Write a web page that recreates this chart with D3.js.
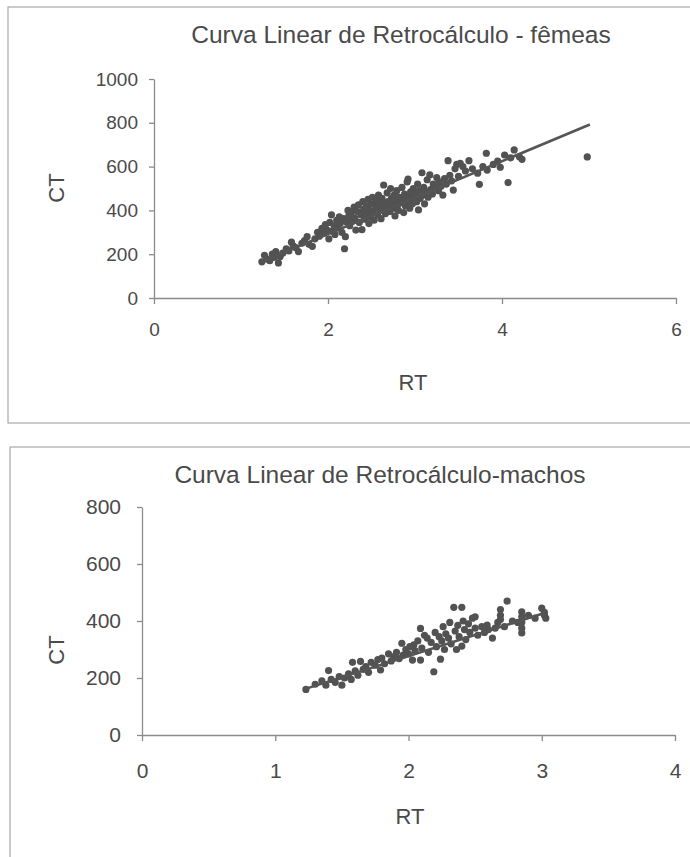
<!DOCTYPE html>
<html><head><meta charset="utf-8">
<script src="https://cdn.jsdelivr.net/npm/d3@7"></script>
<style>html,body{margin:0;padding:0;background:#fff;}svg{display:block;}</style>
</head><body>
<script>
// ---- Data ----
const femTitle = "Curva Linear de Retrocálculo - fêmeas";
const maleTitle = "Curva Linear de Retrocálculo-machos";
const femXTicks = [0, 2, 4, 6];
const femYTicks = [0, 200, 400, 600, 800, 1000];
const maleXTicks = [0, 1, 2, 3, 4];
const maleYTicks = [0, 200, 400, 600, 800];

const femRT = [1.24,1.27,1.30,1.33,1.36,1.38,1.40,1.43,1.45,1.48,1.52,1.55,1.58,1.60,1.63,1.66,1.70,1.73,1.76,1.78,1.82,1.85,1.88,1.90,1.93,1.95,1.97,1.99,
2.01,2.02,2.04,2.05,2.07,2.08,2.10,2.11,2.13,2.14,2.16,2.18,2.19,2.20,2.21,2.23,2.24,2.25,2.27,2.28,2.30,2.31,2.32,2.34,2.35,2.36,2.38,2.39,2.40,2.41,2.42,2.44,2.45,2.46,2.47,2.48,2.49,2.50,
2.51,2.52,2.53,2.55,2.56,2.57,2.58,2.59,2.60,2.61,2.62,2.63,2.64,2.65,2.66,2.68,2.69,2.70,2.71,2.72,2.73,2.74,2.75,2.76,2.77,2.78,2.79,2.80,2.81,2.82,2.84,2.85,2.86,2.87,2.88,2.89,2.90,2.91,2.92,2.93,2.94,2.95,2.96,2.97,2.98,2.99,
3.01,3.02,3.03,3.04,3.05,3.06,3.08,3.09,3.10,3.11,3.12,3.14,3.15,3.17,3.18,3.20,3.21,3.23,3.25,3.27,3.28,3.30,3.32,3.34,3.36,3.38,3.40,3.42,3.44,3.46,3.48,3.50,3.52,3.55,3.58,
3.62,3.66,3.72,3.74,3.78,3.82,3.83,3.90,3.95,3.98,4.03,4.07,4.10,4.14,4.20,4.23,4.98];
const femCT = [165,195,178,170,200,185,212,160,190,205,225,215,255,238,230,212,250,262,280,245,236,270,300,282,318,295,335,310,
270,345,380,305,330,290,355,320,370,340,300,362,225,280,348,400,375,330,390,350,415,365,310,395,425,345,380,312,440,405,360,420,385,450,340,400,370,430,
460,395,355,415,445,380,470,425,400,362,455,435,516,410,385,480,440,420,395,500,455,430,410,470,375,445,490,425,400,460,435,505,450,390,475,420,440,530,543,465,410,485,445,430,500,460,
475,440,520,402,490,455,572,470,505,430,485,540,460,562,495,475,520,505,550,490,530,510,470,545,520,627,560,535,493,590,610,555,615,600,580,
627,590,570,519,600,661,584,610,625,597,653,527,640,676,645,633,644];
const femLineRT = [1.24, 5.01];
const femLineCT = [166, 792];

const maleRT = [1.23,1.30,1.35,1.38,1.40,1.42,1.45,1.48,1.50,1.52,1.55,1.57,1.58,1.60,1.62,1.64,1.66,1.68,1.70,1.72,1.75,1.77,1.79,1.80,1.82,1.85,1.87,1.89,1.91,1.93,1.95,1.96,1.98,2.00,2.01,2.03,2.04,2.05,2.07,2.09,2.09,2.10,2.12,2.14,2.15,2.17,2.19,2.20,2.21,2.23,2.24,2.25,2.26,2.27,2.28,2.30,2.31,2.32,2.34,2.35,2.36,2.37,2.38,2.40,2.40,2.41,2.42,2.43,2.45,2.46,2.48,2.50,2.50,2.52,2.55,2.57,2.59,2.60,2.63,2.65,2.67,2.69,2.69,2.69,2.72,2.74,2.78,2.82,2.85,2.85,2.85,2.85,2.85,2.90,2.95,3.00,3.02,3.02,3.03];
const maleCT = [160,178,190,175,226,195,185,205,175,200,215,195,255,225,210,258,230,240,220,255,245,265,228,270,250,285,260,275,290,268,322,280,300,285,310,263,316,295,330,374,263,305,350,340,290,325,222,360,310,345,266,330,380,300,355,340,395,320,448,365,300,385,345,448,312,400,370,335,390,360,410,415,375,350,380,360,386,370,340,375,395,440,420,405,380,470,400,395,432,415,395,375,358,420,410,445,430,420,410];
const maleLineRT = [1.22, 3.02];
const maleLineCT = [161, 428];

// ---- Drawing ----
const W = 690, H = 857;
const svg = d3.select("body").append("svg").attr("width", W).attr("height", H);
const FONT = "'Liberation Sans', Arial, Helvetica, sans-serif";
const TXT = "#4a4a4a", AX = "#8a8a8a", DOT = "#525252";

function panel(cfg) {
  const g = svg.append("g");
  g.append("rect").attr("x", cfg.frame[0]).attr("y", cfg.frame[1])
    .attr("width", cfg.frame[2]).attr("height", cfg.frame[3])
    .attr("fill", "none").attr("stroke", "#a8a8a8").attr("stroke-width", 1.2);
  const x = d3.scaleLinear().domain(cfg.xDom).range(cfg.xRange);
  const y = d3.scaleLinear().domain(cfg.yDom).range(cfg.yRange);

  const xa = g.append("g").attr("transform", `translate(0,${cfg.yRange[0]})`)
    .call(d3.axisBottom(x).tickValues(cfg.xTicks).tickSizeInner(6).tickSizeOuter(0).tickPadding(cfg.xPad).tickFormat(d3.format("d")));
  const ya = g.append("g").attr("transform", `translate(${cfg.xRange[0]},0)`)
    .call(d3.axisLeft(y).tickValues(cfg.yTicks).tickSizeInner(5).tickSizeOuter(0).tickPadding(cfg.yPad).tickFormat(d3.format("d")));
  [xa, ya].forEach(a => {
    a.selectAll("path,line").attr("stroke", AX).attr("stroke-width", 1.3);
    a.selectAll("text").attr("fill", TXT).attr("font-family", FONT).attr("font-size", cfg.tickFs);
  });

  g.append("g").selectAll("circle").data(cfg.rt.map((r, i) => [r, cfg.ct[i]])).join("circle")
    .attr("cx", d => x(d[0])).attr("cy", d => y(d[1])).attr("r", 3.6).attr("fill", DOT);

  g.append("line")
    .attr("x1", x(cfg.lineRT[0])).attr("y1", y(cfg.lineCT[0]))
    .attr("x2", x(cfg.lineRT[1])).attr("y2", y(cfg.lineCT[1]))
    .attr("stroke", "#555").attr("stroke-width", 2.6);

  g.append("text").attr("x", cfg.titlePos[0]).attr("y", cfg.titlePos[1])
    .attr("text-anchor", "middle").attr("font-family", FONT).attr("font-size", cfg.titleFs)
    .attr("fill", TXT).text(cfg.title);
  g.append("text").attr("x", cfg.xLabPos[0]).attr("y", cfg.xLabPos[1])
    .attr("text-anchor", "middle").attr("font-family", FONT).attr("font-size", cfg.labFs)
    .attr("fill", TXT).text("RT");
  g.append("text").attr("transform", `translate(${cfg.yLabPos[0]},${cfg.yLabPos[1]}) rotate(-90)`)
    .attr("text-anchor", "middle").attr("font-family", FONT).attr("font-size", cfg.labFs)
    .attr("fill", TXT).text("CT");
}

panel({
  frame: [8, 7, 700, 416],
  xDom: [0, 6], xRange: [154, 676], yDom: [0, 1000], yRange: [298, 79],
  xTicks: femXTicks, yTicks: femYTicks, rt: femRT, ct: femCT,
  lineRT: femLineRT, lineCT: femLineCT, xPad: 19, yPad: 11,
  title: femTitle, titlePos: [401, 43], titleFs: 24.5,
  xLabPos: [413, 390], yLabPos: [64, 188], labFs: 22, tickFs: 19
});

panel({
  frame: [10, 447, 700, 430],
  xDom: [0, 4], xRange: [142, 675], yDom: [0, 800], yRange: [735, 507],
  xTicks: maleXTicks, yTicks: maleYTicks, rt: maleRT, ct: maleCT,
  lineRT: maleLineRT, lineCT: maleLineCT, xPad: 22, yPad: 16,
  title: maleTitle, titlePos: [380, 483], titleFs: 24.5,
  xLabPos: [410, 824], yLabPos: [64, 650], labFs: 22, tickFs: 21
});
</script>
</body></html>
